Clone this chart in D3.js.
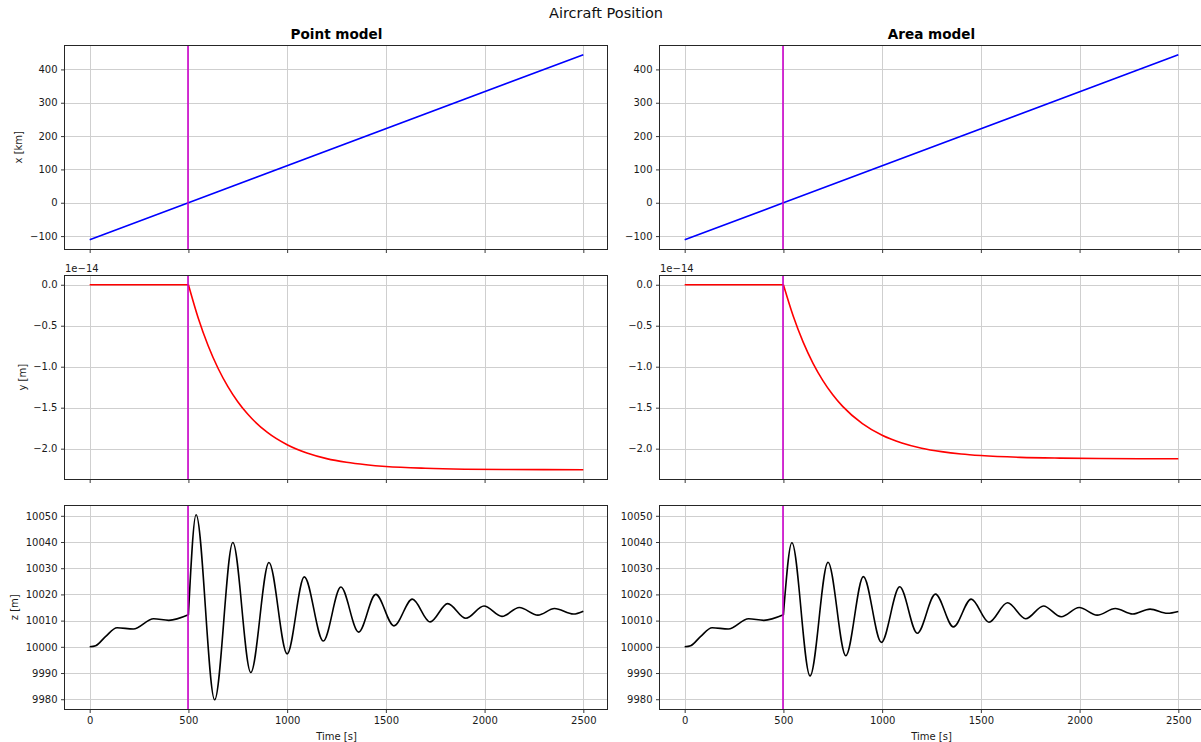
<!DOCTYPE html>
<html>
<head>
<meta charset="utf-8">
<script src="https://cdn.jsdelivr.net/npm/d3@7"></script>
<style>
  html, body { margin: 0; padding: 0; background: #ffffff; }
  svg { display: block; font-family: "DejaVu Sans", sans-serif; }
</style>
</head>
<body>
<div id="chart"></div>
<script>
// ---------------- DATA ----------------
const figureTitle = "Aircraft Position";
const columnTitles = ["Point model", "Area model"];
const rowLabels = ["x [km]", "y [m]", "z [m]"];
const xAxisLabel = "Time [s]";
const eventTime = 500;

const timeTicks = [0, 500, 1000, 1500, 2000, 2500];
const xTicks = [-100, 0, 100, 200, 300, 400];
const yTicks = [0, -0.5e-14, -1.0e-14, -1.5e-14, -2.0e-14];
const zTicks = [9980, 9990, 10000, 10010, 10020, 10030, 10040, 10050];
const yOffsetText = "1e\u221214";

// x position [km]
const tX = [0, 500, 2500];
const xPoint = [-111, 0, 444];
const xArea = [-111, 0, 444];

// y position [m]
const tY = [0, 500, 550, 600, 650, 700, 750, 800, 900, 1000, 1100, 1200, 1300, 1400, 1500, 1700, 1900, 2100, 2300, 2500];
const yPoint = [0, 0, -0.409e-14, -0.744e-14, -1.019e-14, -1.243e-14, -1.427e-14, -1.578e-14, -1.802e-14, -1.952e-14,
  -2.053e-14, -2.121e-14, -2.166e-14, -2.196e-14, -2.217e-14, -2.239e-14, -2.250e-14, -2.254e-14, -2.256e-14, -2.257e-14];
const yArea = [0, 0, -0.385e-14, -0.700e-14, -0.958e-14, -1.169e-14, -1.342e-14, -1.484e-14, -1.694e-14, -1.836e-14,
  -1.930e-14, -1.994e-14, -2.036e-14, -2.065e-14, -2.084e-14, -2.106e-14, -2.115e-14, -2.119e-14, -2.122e-14, -2.123e-14];

// z position [m] (before the event, shared by both models)
const tZPre = [0, 30, 80, 139, 221, 324, 401, 500];
const zPre = [10000, 10000.4, 10003.9, 10007.3, 10006.8, 10010.7, 10010.1, 10012.2];

const tZPoint = [500, 539, 633, 725, 816, 908, 1000, 1087, 1183, 1272, 1362, 1449, 1541, 1634, 1724, 1813, 1905, 1997, 2088, 2176, 2270, 2354, 2450, 2500];
const zPoint = [10012.2, 10050.4, 9979.8, 10039.8, 9990.2, 10032.2, 9997.3, 10026.7, 10002.2, 10022.8, 10005.6, 10020.0,
  10008.0, 10018.2, 10009.5, 10016.5, 10010.9, 10015.6, 10011.6, 10015.0, 10012.1, 10014.6, 10012.5, 10013.6];

const tZArea = [500, 543, 635, 726, 816, 905, 996, 1089, 1178, 1270, 1361, 1451, 1541, 1635, 1727, 1817, 1907, 1998, 2089, 2181, 2269, 2357, 2445, 2500];
const zArea = [10012.2, 10039.7, 9988.9, 10032.3, 9996.6, 10026.8, 10001.7, 10022.9, 10005.2, 10020.1, 10007.6, 10018.2,
  10009.4, 10016.8, 10010.7, 10015.6, 10011.5, 10015.0, 10012.1, 10014.6, 10012.5, 10014.4, 10012.8, 10013.5];

// ---------------- LAYOUT ----------------
const W = 1201, H = 742;
const colLeft = [65, 660];
const axW = 543;
const rowTop = [45.5, 275.5, 505.5];
const axH = 203.5;
const lineColors = ["#0000ff", "#ff0000", "#000000"];
const eventColor = "#cc00cc";
const gridColor = "#cfcfcf";

const svg = d3.select("#chart").append("svg")
  .attr("width", W).attr("height", H).attr("viewBox", `0 0 ${W} ${H}`);
svg.append("rect").attr("width", W).attr("height", H).attr("fill", "#fff");

const defs = svg.append("defs");

function pad(lo, hi) { const m = (hi - lo) * 0.05; return [lo - m, hi + m]; }

const tDomain = pad(0, 2500);
const rowDomains = [
  pad(d3.min(xPoint.concat(xArea)), d3.max(xPoint.concat(xArea))),
  pad(d3.min(yPoint.concat(yArea)), d3.max(yPoint.concat(yArea))),
  pad(d3.min(zPoint.concat(zArea, zPre)), d3.max(zPoint.concat(zArea, zPre)))
];
const rowTicks = [xTicks, yTicks, zTicks];
const rowFormats = [d3.format("d"), d => d3.format(".1f")(d / 1e-14), d3.format("d")];

function zip(ts, vs) { return ts.map((t, i) => [t, vs[i]]); }
function splitAt(ts, vs, t0) {
  const pts = zip(ts, vs);
  return [pts.filter(p => p[0] <= t0), pts.filter(p => p[0] >= t0)];
}

const seriesByPanel = [
  [ [zip(tX, xPoint)], splitAt(tY, yPoint, eventTime), [zip(tZPre, zPre), zip(tZPoint, zPoint)] ],
  [ [zip(tX, xArea)], splitAt(tY, yArea, eventTime), [zip(tZPre, zPre), zip(tZArea, zArea)] ]
];

const crisp = v => Math.round(v) + 0.5;

for (let c = 0; c < 2; c++) {
  for (let r = 0; r < 3; r++) {
    const L = colLeft[c], T = rowTop[r];
    const x = d3.scaleLinear().domain(tDomain).range([L, L + axW]);
    const y = d3.scaleLinear().domain(rowDomains[r]).range([T + axH, T]);
    const clipId = `clip-${c}-${r}`;
    defs.append("clipPath").attr("id", clipId)
      .append("rect").attr("x", L).attr("y", T).attr("width", axW).attr("height", axH);

    const g = svg.append("g");
    const inner = g.append("g").attr("clip-path", `url(#${clipId})`);

    // grid
    inner.selectAll(".vg").data(timeTicks).enter().append("line")
      .attr("x1", d => crisp(x(d))).attr("x2", d => crisp(x(d)))
      .attr("y1", T).attr("y2", T + axH)
      .attr("stroke", gridColor).attr("stroke-width", 1);
    inner.selectAll(".hg").data(rowTicks[r]).enter().append("line")
      .attr("y1", d => crisp(y(d))).attr("y2", d => crisp(y(d)))
      .attr("x1", L).attr("x2", L + axW)
      .attr("stroke", gridColor).attr("stroke-width", 1);

    // data
    const lineGen = d3.line().x(d => x(d[0])).y(d => y(d[1]))
      .curve(r === 0 ? d3.curveLinear : d3.curveMonotoneX);
    seriesByPanel[c][r].forEach(seg => {
      inner.append("path").attr("d", lineGen(seg))
        .attr("fill", "none").attr("stroke", lineColors[r])
        .attr("stroke-width", 1.6).attr("stroke-linejoin", "round").attr("stroke-linecap", "butt");
    });

    // event line
    const ex = Math.round(x(eventTime));
    inner.append("line")
      .attr("x1", ex).attr("x2", ex)
      .attr("y1", T).attr("y2", T + axH)
      .attr("stroke", eventColor).attr("stroke-width", 1.6);

    // axes
    const yAxis = d3.axisLeft(y).tickValues(rowTicks[r]).tickFormat(rowFormats[r])
      .tickSize(4).tickPadding(3.5);
    const ya = g.append("g").attr("transform", `translate(${L},0)`).call(yAxis);
    const xAxis = d3.axisBottom(x).tickValues(timeTicks)
      .tickFormat(r === 2 ? d3.format("d") : () => "")
      .tickSize(4).tickPadding(4);
    const xa = g.append("g").attr("transform", `translate(0,${T + axH})`).call(xAxis);
    [ya, xa].forEach(a => {
      a.select(".domain").remove();
      a.selectAll(".tick line").attr("stroke", "#222").attr("stroke-width", 0.9);
      a.selectAll(".tick text").attr("fill", "#1a1a1a")
        .style("font-family", "DejaVu Sans").style("font-size", "10px");
    });

    // spines
    g.append("rect").attr("x", crisp(L) - 1).attr("y", crisp(T) - 1)
      .attr("width", Math.round(axW)).attr("height", Math.round(axH))
      .attr("fill", "none").attr("stroke", "#262626").attr("stroke-width", 1);

    if (r === 1) {
      g.append("text").attr("x", L).attr("y", T - 3.5)
        .attr("font-size", 10).attr("fill", "#1a1a1a").text(yOffsetText);
    }
    if (r === 0) {
      g.append("text").attr("x", L + axW / 2).attr("y", T - 6.5)
        .attr("text-anchor", "middle").attr("font-size", 13.6).attr("font-weight", "bold")
        .text(columnTitles[c]);
    }
    if (r === 2) {
      g.append("text").attr("x", L + axW / 2).attr("y", T + axH + 31)
        .attr("text-anchor", "middle").attr("font-size", 10).attr("fill", "#1a1a1a")
        .text(xAxisLabel);
    }
    if (c === 0) {
      const lx = [18, 22.5, 14.5][r];
      svg.append("text")
        .attr("transform", `translate(${lx},${T + axH / 2}) rotate(-90)`)
        .attr("text-anchor", "middle").attr("dominant-baseline", "central")
        .attr("font-size", 10).attr("fill", "#1a1a1a")
        .text(rowLabels[r]);
    }
  }
}

svg.append("text").attr("x", 606).attr("y", 18)
  .attr("text-anchor", "middle").attr("font-size", 14.5).attr("fill", "#111")
  .text(figureTitle);
</script>
</body>
</html>
